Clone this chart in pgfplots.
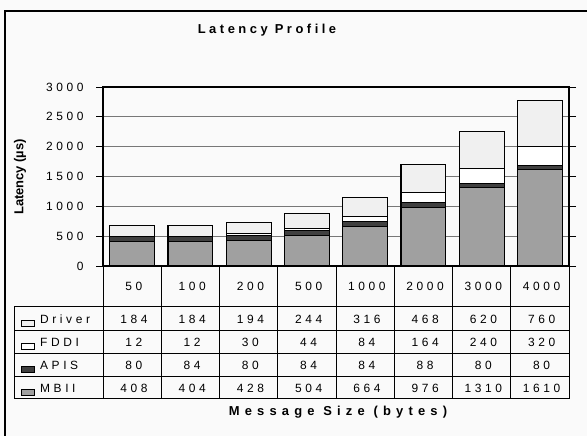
\documentclass[border=0pt]{standalone}
\usepackage{fontspec}
\setmainfont{Liberation Sans}
\newfontfamily\spf[LetterSpace=30]{Liberation Sans}
\newfontfamily\spt[LetterSpace=27]{Liberation Sans}
\newfontfamily\spx[LetterSpace=40]{Liberation Sans}
\usepackage{pgfplots}
\usepackage{pgfplotstable}
\pgfplotsset{compat=1.18}
\definecolor{bg}{HTML}{FAFAFA}
\definecolor{mbii}{HTML}{A0A0A0}
\definecolor{apis}{HTML}{404040}
\definecolor{fddi}{HTML}{FFFFFF}
\definecolor{drv}{HTML}{F0F0F0}
\definecolor{gridc}{HTML}{777777}

\pgfplotstableread{
idx size MBII APIS FDDI Driver
0 50 408 80 12 184
1 100 404 84 12 184
2 200 428 80 30 194
3 500 504 84 44 244
4 1000 664 84 84 316
5 2000 976 88 164 468
6 3000 1310 80 240 620
7 4000 1610 80 320 760
}\data

\begin{document}
\begin{tikzpicture}[x=1bp,y=1bp]
\useasboundingbox (0,0) rectangle (587,436);
\fill[bg] (0,0) rectangle (587,436);
\draw[black, line width=1.2bp] (5,-5) -- (5,425) -- (600,425);
\node[font=\spt\bfseries\fontsize{13}{15}\selectfont] at (267,406) {Latency Profile};
\node[rotate=90, font=\bfseries\fontsize{13}{15}\selectfont] at (20,259) {Latency (µs)};
\node[font=\spx\bfseries\fontsize{13}{15}\selectfont] at (338,24) {Message Size (bytes)};
\begin{axis}[
  at={(103bp,170bp)}, anchor=south west,
  scale only axis, width=466bp, height=179bp,
  ybar stacked, bar width=0.77,
  xmin=-0.5, xmax=7.5, ymin=0, ymax=3000,
  ytick={0,500,...,3000}, xtick=\empty,
  ymajorgrids, grid style={draw=gridc, line width=0.9bp},
  axis line style={black, line width=1.2bp},
  tick align=outside, major tick length=7bp,
  ytick style={black, line width=0.8bp},
  yticklabel style={font=\spf\fontsize{12}{14}\selectfont, xshift=-9bp},
  /pgf/number format/assume math mode=true,
  /pgf/number format/1000 sep={},
  clip=false,
  axis background/.style={fill=bg},
]
\addplot[fill=mbii, draw=black, line width=1.1bp] table[x=idx,y=MBII]{\data};
\addplot[fill=apis, draw=black, line width=1.1bp] table[x=idx,y=APIS]{\data};
\addplot[fill=fddi, draw=black, line width=1.1bp] table[x=idx,y=FDDI]{\data};
\addplot[fill=drv, draw=black, line width=1.1bp] table[x=idx,y=Driver]{\data};
\end{axis}
% data table
\foreach \k in {0,...,8} {
  \draw[black, line width=1bp] ({103+58.25*\k},170) -- ({103+58.25*\k},37);
}
\foreach \yy in {129,105,82,59,37} {
  \draw[black, line width=1bp] (14,\yy) -- (569,\yy);
}
\draw[black, line width=1bp] (14,129) -- (14,37);
\foreach \i in {0,...,7} {
  \pgfplotstablegetelem{\i}{size}\of\data
  \node[font=\spf\fontsize{12}{14}\selectfont] at ({133.9+58.25*\i},149.5) {\pgfplotsretval};
}
\foreach \s/\yy/\c in {Driver/117/drv, FDDI/93.5/fddi, APIS/70.5/apis, MBII/48/mbii} {
  \foreach \i in {0,...,7} {
    \pgfplotstablegetelem{\i}{\s}\of\data
    \node[font=\spf\fontsize{12}{14}\selectfont] at ({133.9+58.25*\i},\yy) {\pgfplotsretval};
  }
  \filldraw[fill=\c, draw=black, line width=0.8bp] (21,\yy-7) rectangle (34,\yy-1);
  \node[anchor=west, inner sep=0pt, font=\spf\fontsize{12}{14}\selectfont] at (40,\yy) {\s};
}
\end{tikzpicture}
\end{document}
